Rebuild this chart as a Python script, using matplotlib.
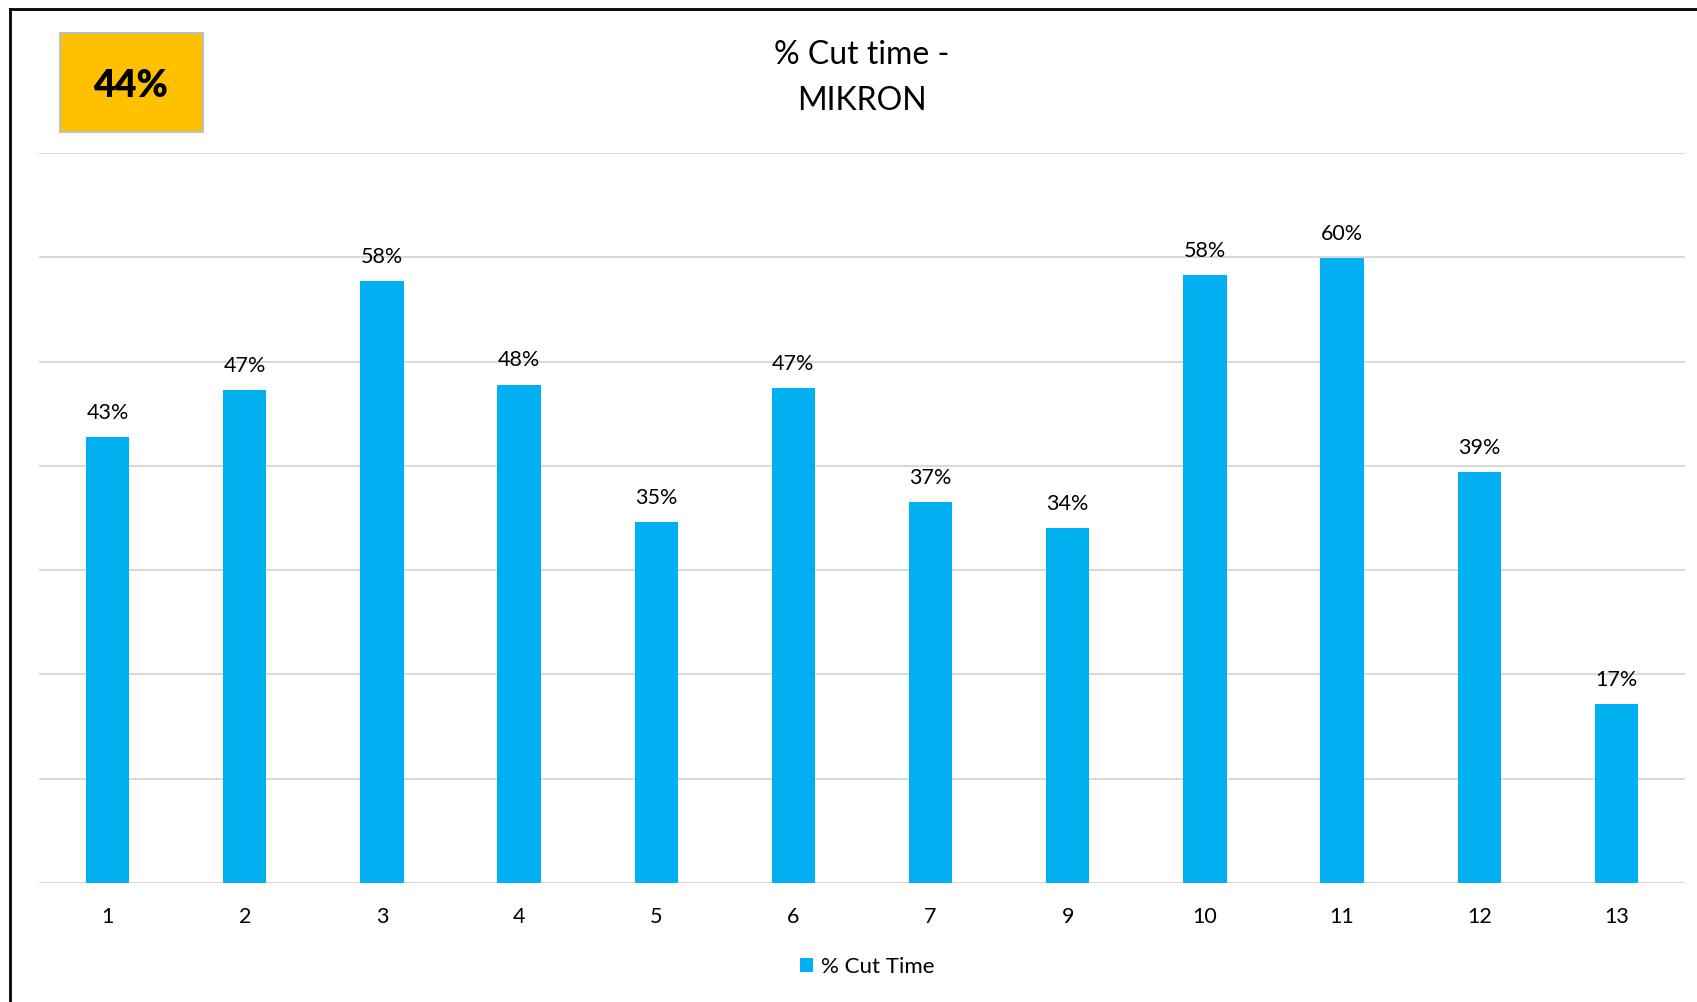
import matplotlib
matplotlib.use("Agg")
import matplotlib.pyplot as plt
from matplotlib.patches import Patch, Rectangle
from matplotlib.lines import Line2D

plt.rcParams['font.family'] = ['Lato', 'DejaVu Sans']

categories = ["1", "2", "3", "4", "5", "6", "7", "9", "10", "11", "12", "13"]
cut_time = [42.8, 47.3, 57.7, 47.8, 34.6, 47.5, 36.5, 34.0, 58.3, 59.9, 39.4, 17.2]
labels = ["43%", "47%", "58%", "48%", "35%", "47%", "37%", "34%", "58%", "60%", "39%", "17%"]
series_name = "% Cut Time"
kpi_text = "44%"
title_text = "% Cut time -\nMIKRON"

W, H = 1697, 1002
fig = plt.figure(figsize=(W / 100, H / 100), dpi=100)
ax = fig.add_axes([39 / W, 1 - 883 / H, (1685 - 39) / W, (883 - 153) / H])

x = list(range(len(categories)))
ax.bar(x, cut_time, width=0.315, color="#00B0F0", zorder=3)
for xi, v, lab in zip(x, cut_time, labels):
    ax.annotate(lab, (xi, v), xytext=(0, 13), textcoords="offset points",
                ha="center", va="baseline", fontsize=15.5, color="#000000")

ax.set_xlim(-0.5, len(categories) - 0.5)
ax.set_ylim(0, 70)
ax.set_yticks(range(0, 71, 10))
ax.set_yticklabels([])
ax.tick_params(axis="y", length=0)
ax.set_xticks(x)
ax.set_xticklabels(categories, fontsize=15.5)
ax.tick_params(axis="x", length=0, pad=17)
ax.grid(axis="y", color="#D9D9D9", linewidth=1.5, zorder=0)
for s in ax.spines.values():
    s.set_visible(False)

title_lines = title_text.split("\n")
fig.text(862 / W, 1 - 55.5 / H, title_lines[0], ha="center", va="center", fontsize=23)
fig.text(862 / W, 1 - 100.5 / H, title_lines[1], ha="center", va="center", fontsize=23)

# KPI box
fig.add_artist(Rectangle((60 / W, 1 - 132 / H), (203 - 60) / W, (132 - 33) / H,
                         transform=fig.transFigure, facecolor="#FFC000",
                         edgecolor="#BFBFBF", linewidth=1.5))
fig.text(131 / W, 1 - 86 / H, kpi_text, ha="center", va="center",
         fontsize=27, fontweight="heavy", color="#000000")

# frame lines (left and top)
fig.add_artist(Line2D([10 / W, 10 / W], [0, 1 - 9 / H], transform=fig.transFigure,
                      color="black", linewidth=2))
fig.add_artist(Line2D([10 / W, 1], [1 - 9 / H, 1 - 9 / H], transform=fig.transFigure,
                      color="black", linewidth=2))

handle = Patch(facecolor="#00B0F0", edgecolor="none")
fig.legend([handle], [series_name], loc="center", bbox_to_anchor=(867 / W, 1 - 967 / H),
           frameon=False, fontsize=16, handlelength=0.6, handleheight=0.6,
           handletextpad=0.35)

fig.savefig("out.png", dpi=100, facecolor="white")
